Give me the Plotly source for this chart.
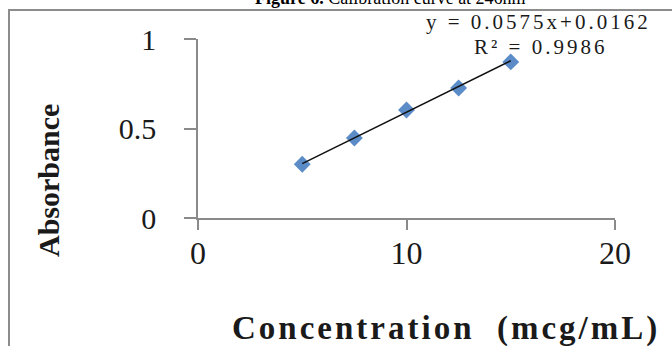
import plotly.graph_objects as go

# Calibration data (concentration in mcg/mL, absorbance at 246 nm)
concentration = [5, 7.5, 10, 12.5, 15]
absorbance = [0.300, 0.447, 0.603, 0.726, 0.872]

# Linear regression reported for the calibration curve
slope = 0.0575
intercept = 0.0162
r_squared = 0.9986

x_tick_vals = [0, 10, 20]
x_tick_text = ["0", "10", "20"]
y_tick_vals = [0, 0.5, 1]
y_tick_text = ["0", "0.5", "1"]

title_bold = "Figure 6."
title_rest = "Calibration curve at 246nm"
x_title = "Concentration\u00a0 (mcg/mL)"
y_title = "Absorbance"

# Canvas and plot-area geometry (pixels)
W, H = 672, 346
L, R, T, B = 198, 57, 39, 128
PW, PH = W - L - R, H - T - B


def px(x):
    return (x - L) / PW


def py(y):
    return (H - B - y) / PH


SERIF = "Liberation Serif, Times New Roman, serif"
AXIS_GRAY = "#8a8a8a"
TEXT = "#1a1a1a"

# Trendline from the regression coefficients
trend_x = [min(concentration), max(concentration)]
trend_y = [slope * x + intercept for x in trend_x]

fig = go.Figure()
fig.add_trace(go.Scatter(
    x=concentration, y=absorbance, mode="markers",
    marker=dict(symbol="diamond", size=13, color="#5b8cc8",
                line=dict(width=0)),
    hoverinfo="skip", showlegend=False,
))
fig.add_trace(go.Scatter(
    x=trend_x, y=trend_y, mode="lines",
    line=dict(color="#111111", width=1.5),
    hoverinfo="skip", showlegend=False,
))

eq_text = f"y = {slope}x+{intercept}"
r2_text = f"R\u00b2 = {r_squared}"


def spaced(s, sp):
    return f'<span style="letter-spacing:{sp}px">{s}</span>'


annotations = [
    dict(text=f"<b>{title_bold}</b> {title_rest}", x=px(390), y=py(10),
         xanchor="center", yanchor="bottom",
         font=dict(family=SERIF, size=18, color="#000")),
    dict(text=spaced(eq_text, 3), x=px(538), y=py(22),
         xanchor="center", yanchor="middle",
         font=dict(family=SERIF, size=21, color=TEXT)),
    dict(text=spaced(r2_text, 3), x=px(540), y=py(47),
         xanchor="center", yanchor="middle",
         font=dict(family=SERIF, size=21, color=TEXT)),
    dict(text=f"<b>{spaced(x_title, 3)}</b>", x=px(446), y=py(328),
         xanchor="center", yanchor="middle",
         font=dict(family=SERIF, size=33, color=TEXT)),
    dict(text=f"<b>{y_title}</b>", x=px(48), y=py(181), textangle=-90,
         xanchor="center", yanchor="middle",
         font=dict(family=SERIF, size=30, color=TEXT)),
]
for a in annotations:
    a.update(xref="paper", yref="paper", showarrow=False)

fig.update_layout(
    width=W, height=H,
    margin=dict(l=L, r=R, t=T, b=B),
    paper_bgcolor="white", plot_bgcolor="white",
    annotations=annotations,
    shapes=[dict(type="rect", xref="paper", yref="paper",
                 x0=px(9), x1=px(690), y0=py(10), y1=py(360),
                 line=dict(color="#8c8c8c", width=2), layer="below")],
    xaxis=dict(range=[0, 20], tickvals=x_tick_vals, ticktext=x_tick_text,
               showgrid=False, zeroline=False, showline=True,
               linecolor=AXIS_GRAY, linewidth=1.5,
               ticks="outside", ticklen=10, tickcolor=AXIS_GRAY, tickwidth=1.5,
               ticklabelstandoff=-4,
               tickfont=dict(family=SERIF, size=32, color=TEXT)),
    yaxis=dict(range=[0, 1], tickvals=y_tick_vals, ticktext=y_tick_text,
               showgrid=False, zeroline=False, showline=True,
               linecolor=AXIS_GRAY, linewidth=1.5,
               ticks="outside", ticklen=12, tickcolor=AXIS_GRAY, tickwidth=1.5,
               ticklabelstandoff=22,
               tickfont=dict(family=SERIF, size=30, color=TEXT)),
)

fig.write_html("out.html")
